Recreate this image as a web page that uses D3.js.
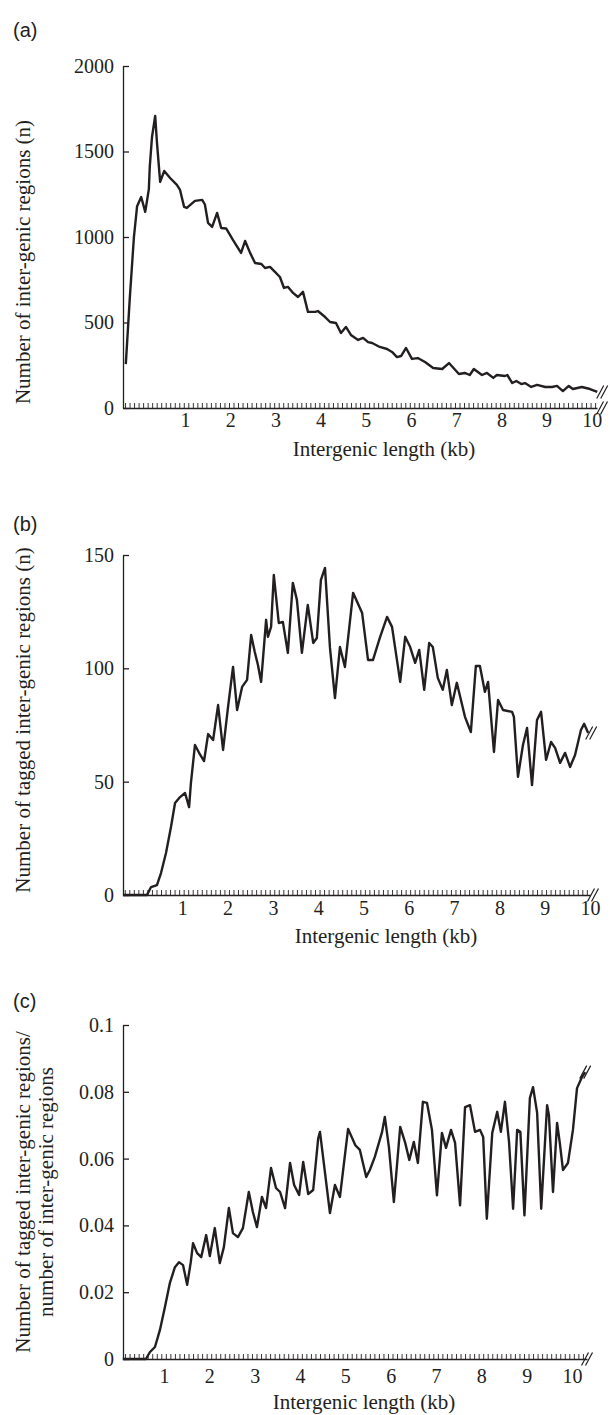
<!DOCTYPE html>
<html>
<head>
<meta charset="utf-8">
<script src="https://cdn.jsdelivr.net/npm/d3@7"></script>
<style>
  body { margin: 0; background: #fff; }
</style>
</head>
<body>
<svg id="chart" width="610" height="1415"></svg>
<script>
// (a) number of inter-genic regions per length bin
const lenA = [-0.31, -0.22, -0.13, -0.06, 0.03, 0.12, 0.2, 0.22, 0.27, 0.34, 0.38, 0.45, 0.54, 0.67, 0.82, 0.89, 0.98, 1.04, 1.22, 1.38, 1.44, 1.51, 1.60, 1.71, 1.80, 1.91, 2.06, 2.24, 2.33, 2.44, 2.55, 2.69, 2.77, 2.88, 2.99, 3.10, 3.19, 3.28, 3.39, 3.50, 3.61, 3.72, 3.88, 3.94, 4.10, 4.21, 4.34, 4.45, 4.56, 4.67, 4.83, 4.94, 5.05, 5.14, 5.31, 5.47, 5.58, 5.69, 5.78, 5.89, 6.02, 6.15, 6.31, 6.49, 6.69, 6.84, 7.06, 7.19, 7.30, 7.39, 7.57, 7.68, 7.82, 7.90, 8.08, 8.13, 8.24, 8.33, 8.44, 8.52, 8.66, 8.79, 8.97, 9.12, 9.23, 9.36, 9.49, 9.58, 9.78, 9.96, 10.12];
const countA = [257, 650, 1000, 1180, 1234, 1147, 1280, 1410, 1585, 1708, 1550, 1322, 1386, 1345, 1305, 1275, 1176, 1170, 1211, 1217, 1190, 1082, 1059, 1141, 1053, 1050, 983, 907, 977, 907, 848, 842, 819, 825, 796, 766, 702, 708, 673, 649, 679, 562, 562, 567, 532, 503, 497, 439, 474, 427, 398, 410, 385, 380, 357, 345, 328, 298, 304, 351, 287, 292, 269, 234, 228, 263, 199, 205, 193, 228, 193, 205, 176, 193, 187, 193, 146, 158, 140, 146, 123, 135, 123, 123, 129, 99, 129, 111, 123, 111, 94];

// (b) number of tagged inter-genic regions
const lenB = [-0.31, 0.22, 0.31, 0.44, 0.53, 0.64, 0.75, 0.84, 0.95, 1.06, 1.15, 1.19, 1.28, 1.39, 1.48, 1.57, 1.68, 1.79, 1.90, 2.01, 2.12, 2.21, 2.32, 2.43, 2.52, 2.60, 2.67, 2.74, 2.85, 2.89, 2.96, 3.02, 3.13, 3.22, 3.33, 3.44, 3.53, 3.64, 3.77, 3.89, 3.97, 4.06, 4.15, 4.26, 4.37, 4.48, 4.59, 4.77, 4.97, 5.10, 5.21, 5.36, 5.52, 5.63, 5.81, 5.92, 6.03, 6.14, 6.23, 6.34, 6.45, 6.53, 6.64, 6.75, 6.84, 6.95, 7.06, 7.24, 7.37, 7.48, 7.57, 7.68, 7.75, 7.88, 7.97, 8.08, 8.28, 8.32, 8.41, 8.52, 8.61, 8.72, 8.83, 8.92, 9.03, 9.14, 9.23, 9.34, 9.45, 9.56, 9.67, 9.80, 9.87, 9.96];
const countB = [0, 0, 3.5, 4.4, 9.7, 18.5, 30, 40.6, 43.2, 45, 38.8, 49.4, 66.2, 62, 59.1, 71, 68.4, 83.8, 64, 83, 100.6, 81.6, 91.8, 94.9, 114.7, 107.2, 101.5, 94, 121.4, 113.9, 118.3, 141.2, 120, 120.5, 106.8, 137.7, 130.2, 106.8, 128, 111.2, 113.4, 139, 144.3, 109, 86.9, 109.4, 100.6, 133.3, 124.4, 103.7, 103.7, 113.4, 122.7, 118.3, 94, 113.9, 109.4, 102.4, 108.1, 90.5, 111.2, 109.4, 95.8, 90.5, 99.3, 83.8, 93.6, 78.6, 71.9, 101, 101, 89.6, 94, 63.1, 86, 81.6, 80.8, 78.6, 52.1, 66.2, 73.7, 48.5, 77.2, 80.8, 59.6, 67.5, 64.9, 58.3, 62.7, 56.5, 61.8, 72.8, 75.5, 71.5];

// (c) tagged / all inter-genic regions
const lenC = [0.09, 0.60, 0.69, 0.80, 0.91, 1.02, 1.13, 1.24, 1.33, 1.42, 1.51, 1.59, 1.64, 1.73, 1.82, 1.93, 2.01, 2.12, 2.23, 2.32, 2.43, 2.52, 2.63, 2.74, 2.87, 2.96, 3.05, 3.16, 3.25, 3.36, 3.47, 3.56, 3.67, 3.78, 3.87, 3.98, 4.07, 4.18, 4.29, 4.40, 4.44, 4.66, 4.77, 4.88, 5.06, 5.22, 5.32, 5.46, 5.54, 5.65, 5.81, 5.87, 5.96, 6.07, 6.21, 6.32, 6.41, 6.51, 6.60, 6.71, 6.80, 6.91, 7.02, 7.13, 7.22, 7.33, 7.42, 7.53, 7.64, 7.75, 7.86, 7.97, 8.04, 8.12, 8.24, 8.35, 8.43, 8.52, 8.61, 8.70, 8.79, 8.86, 8.95, 9.07, 9.14, 9.23, 9.32, 9.45, 9.49, 9.58, 9.67, 9.73, 9.80, 9.91, 10.02, 10.11, 10.22, 10.29];
const ratioC = [0, 0, 0.0021, 0.0036, 0.0087, 0.0156, 0.0228, 0.0275, 0.029, 0.0281, 0.0222, 0.029, 0.0347, 0.0317, 0.0305, 0.0371, 0.0308, 0.0392, 0.0287, 0.0335, 0.0452, 0.0377, 0.0365, 0.0392, 0.05, 0.044, 0.0395, 0.0485, 0.0452, 0.0572, 0.0512, 0.05, 0.0452, 0.0587, 0.0521, 0.0491, 0.059, 0.0494, 0.0506, 0.066, 0.068, 0.0437, 0.0521, 0.0485, 0.0689, 0.064, 0.0626, 0.0545, 0.0566, 0.0605, 0.068, 0.0725, 0.0635, 0.047, 0.0695, 0.0647, 0.0596, 0.065, 0.0587, 0.077, 0.0767, 0.0686, 0.049, 0.0677, 0.0632, 0.0686, 0.0647, 0.046, 0.0754, 0.076, 0.068, 0.0686, 0.0665, 0.042, 0.0677, 0.074, 0.068, 0.077, 0.065, 0.045, 0.0686, 0.068, 0.043, 0.0781, 0.0814, 0.0737, 0.045, 0.076, 0.073, 0.05, 0.0707, 0.0647, 0.0566, 0.0587, 0.0686, 0.0811, 0.0844, 0.0859];

const kbLabels = [1, 2, 3, 4, 5, 6, 7, 8, 9, 10];
const ticksA = [0, 500, 1000, 1500, 2000];
const ticksB = [0, 50, 100, 150];
const ticksC = [0, 0.02, 0.04, 0.06, 0.08, 0.1];

const ink = "#231f20";
const serif = "'Liberation Serif', 'Times New Roman', Tinos, serif";
const svg = d3.select("#chart");

function slashes(g, cx, cy) {
    // the "//" axis-break mark
    [-2, 2].forEach(k => {
        g.append("line")
            .attr("x1", cx + k - 3.5).attr("y1", cy + 6.5)
            .attr("x2", cx + k + 3.5).attr("y2", cy - 6.5)
            .style("stroke", ink).style("stroke-width", 1.2);
    });
}

function panel(p) {
    const g = svg.append("g");
    const x = d3.scaleLinear().domain(p.xDomain).range(p.xRange);
    const y = d3.scaleLinear().domain([p.yTicks[0], p.yTicks[p.yTicks.length - 1]]).range(p.yRange);

    // y axis, ticks pointing inwards
    const ya = g.append("g")
        .attr("transform", `translate(${p.xRange[0]},0)`)
        .call(d3.axisLeft(y).tickValues(p.yTicks).tickSizeInner(-6).tickSizeOuter(0).tickPadding(9)
            .tickFormat(p.yFormat || (d => d)));
    ya.select(".domain").style("stroke", ink).style("stroke-width", 1.3);
    ya.selectAll(".tick line").style("stroke", ink).style("stroke-width", 1.3);
    ya.selectAll("text").style("font-size", "20px");

    // x axis with 0.1 kb minor ticks
    const minor = d3.range(p.minorStart, p.xDomain[1], 0.1);
    const xa = g.append("g")
        .attr("transform", `translate(0,${p.yRange[0]})`)
        .call(d3.axisBottom(x).tickValues(minor).tickSizeInner(-5).tickSizeOuter(0).tickFormat(""));
    xa.select(".domain").style("stroke", ink).style("stroke-width", 1.5);
    xa.selectAll(".tick line").style("stroke", ink).style("stroke-width", 0.9);

    const xl = g.append("g")
        .attr("transform", `translate(0,${p.yRange[0]})`)
        .call(d3.axisBottom(x).tickValues(kbLabels).tickSize(0).tickPadding(p.labelPad));
    xl.select(".domain").remove();
    xl.selectAll("text").style("font-size", "20px");

    g.append("text")
        .attr("x", p.titleX).attr("y", p.yRange[0] + p.titleDy)
        .attr("text-anchor", "middle")
        .style("font-size", "21px")
        .text("Intergenic length (kb)");

    p.yTitle.forEach((t, i) => {
        g.append("text")
            .attr("transform", `translate(${30 + i * 23},${p.yTitleY}) rotate(-90)`)
            .attr("text-anchor", "middle")
            .style("font-size", "21px")
            .text(t);
    });

    g.selectAll("text").style("font-family", serif).attr("fill", ink);

    g.append("text")
        .attr("x", 13).attr("y", p.letterY)
        .style("font-family", "'Liberation Sans', Arial, sans-serif")
        .style("font-size", "20px")
        .attr("fill", ink)
        .text(p.letter);

    const pts = p.xs.map((v, i) => [v, p.ys[i]]);
    g.append("path")
        .datum(pts)
        .attr("d", d3.line().x(d => x(d[0])).y(d => y(d[1])))
        .style("fill", "none")
        .style("stroke", ink)
        .style("stroke-width", 2.4)
        .style("stroke-linejoin", "round");

    const last = pts[pts.length - 1];
    slashes(g, x(last[0]) + p.breakDx, y(last[1]));
    slashes(g, p.xRange[1] + p.breakDx, p.yRange[0]);
}

panel({
    letter: "(a)", letterY: 37,
    xs: lenA, ys: countA,
    xDomain: [-0.372, 10.115], xRange: [123, 597], minorStart: -0.327,
    yTicks: ticksA, yRange: [408, 66],
    labelPad: 5, titleX: 384, titleDy: 48,
    yTitle: ["Number of inter-genic regions (n)"], yTitleY: 262,
    breakDx: 5
});

panel({
    letter: "(b)", letterY: 531,
    xs: lenB, ys: countB,
    xDomain: [-0.309, 10.0], xRange: [123, 590], minorStart: -0.27,
    yTicks: ticksB, yRange: [895, 555],
    labelPad: 6, titleX: 386, titleDy: 48,
    yTitle: ["Number of tagged inter-genic regions (n)"], yTitleY: 720,
    breakDx: 3
});

panel({
    letter: "(c)", letterY: 1008,
    xs: lenC, ys: ratioC,
    xDomain: [0.095, 10.33], xRange: [123, 587], minorStart: 0.14,
    yTicks: ticksC, yRange: [1359, 1025],
    yFormat: d => String(+d.toFixed(2)),
    labelPad: 10, titleX: 364, titleDy: 50,
    yTitle: ["Number of tagged inter-genic regions/", "number of inter-genic regions"], yTitleY: 1192,
    breakDx: 0
});
</script>
</body>
</html>
